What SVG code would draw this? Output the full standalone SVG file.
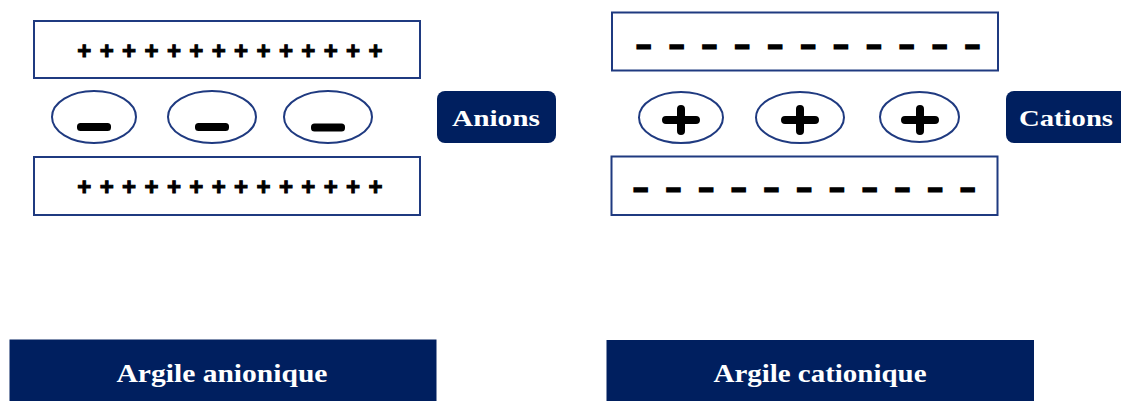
<svg xmlns="http://www.w3.org/2000/svg" width="1121" height="401" viewBox="0 0 1121 401">
  <style>
    .layer { fill: #ffffff; stroke: #1f3a80; stroke-width: 2; }
    .ion { fill: #ffffff; stroke: #1f3a80; stroke-width: 2; }
    .charges { font-family: "Liberation Sans", Arial, sans-serif; font-weight: bold; fill: #000000; stroke: #000000; text-anchor: middle; }
    .plusrow { font-size: 24px; stroke-width: 1; }
    .dashrow { font-size: 24px; stroke-width: 2.8; }
    .sign { fill: none; stroke: #000000; stroke-width: 8; stroke-linecap: round; }
    .tag { fill: #001f5f; }
    .tag-text { font-family: "Liberation Serif", "Times New Roman", serif; font-weight: bold; fill: #ffffff; text-anchor: middle; }
  </style>

  <!-- Anionic clay: positive layers with anions between them -->
  <g id="anionic-top-layer">
    <rect class="layer" x="34" y="21" width="386" height="57"/>
    <text class="charges plusrow" y="59" x="84.3 106.7 129.1 151.5 173.9 196.3 218.7 241.1 263.5 285.9 308.3 330.7 353.1 375.5">++++++++++++++</text>
  </g>
  <g id="anion-1">
    <ellipse class="ion" cx="94" cy="117" rx="42" ry="26"/>
    <rect x="77" y="123" width="34" height="8" rx="3.5" fill="#000000"/>
  </g>
  <g id="anion-2">
    <ellipse class="ion" cx="212" cy="117" rx="44" ry="26"/>
    <rect x="195" y="123" width="34" height="8" rx="3.5" fill="#000000"/>
  </g>
  <g id="anion-3">
    <ellipse class="ion" cx="328" cy="117" rx="44" ry="26"/>
    <rect x="311" y="123.5" width="34" height="8" rx="3.5" fill="#000000"/>
  </g>
  <g id="anionic-bottom-layer">
    <rect class="layer" x="34" y="157" width="386" height="58"/>
    <text class="charges plusrow" y="195" x="84.3 106.7 129.1 151.5 173.9 196.3 218.7 241.1 263.5 285.9 308.3 330.7 353.1 375.5">++++++++++++++</text>
  </g>
  <g id="anions-label">
    <rect class="tag" x="437" y="91" width="119" height="52" rx="8"/>
    <text class="tag-text" x="496" y="126" font-size="23" textLength="88" lengthAdjust="spacingAndGlyphs">Anions</text>
  </g>

  <!-- Cationic clay: negative layers with cations between them -->
  <g id="cationic-top-layer">
    <rect class="layer" x="612" y="12.5" width="386" height="58"/>
    <text class="charges dashrow" y="53" x="643.7 676.6 709.5 742.3 775.2 808.1 841 873.9 906.7 939.6 972.5">–––––––––––</text>
  </g>
  <g id="cation-1">
    <ellipse class="ion" cx="681" cy="117.5" rx="42" ry="25.5"/>
    <path class="sign" d="M666 120 H696 M681 109 V131"/>
  </g>
  <g id="cation-2">
    <ellipse class="ion" cx="800" cy="117.5" rx="44" ry="25.5"/>
    <path class="sign" d="M785 120 H815 M800 109 V131"/>
  </g>
  <g id="cation-3">
    <ellipse class="ion" cx="919.5" cy="117" rx="39.5" ry="25"/>
    <path class="sign" d="M905 120 H935 M920 109 V131"/>
  </g>
  <g id="cationic-bottom-layer">
    <rect class="layer" x="611.5" y="156.5" width="386" height="58.5"/>
    <text class="charges dashrow" y="196" x="640.7 673.4 706.1 738.8 771.5 804.3 837 869.7 902.4 935.1 967.8">–––––––––––</text>
  </g>
  <g id="cations-label">
    <rect class="tag" x="1006" y="91" width="122" height="52" rx="8"/>
    <text class="tag-text" x="1066" y="126" font-size="23" textLength="94" lengthAdjust="spacingAndGlyphs">Cations</text>
  </g>

  <!-- Captions -->
  <g id="anionic-caption">
    <rect class="tag" x="9.5" y="339.5" width="427" height="70"/>
    <text class="tag-text" x="222" y="382" font-size="25" textLength="211" lengthAdjust="spacingAndGlyphs">Argile anionique</text>
  </g>
  <g id="cationic-caption">
    <rect class="tag" x="606.5" y="340" width="427.5" height="70"/>
    <text class="tag-text" x="820" y="382" font-size="25" textLength="213" lengthAdjust="spacingAndGlyphs">Argile cationique</text>
  </g>

  <!-- no connectors in this figure -->
  <g id="connectors"/>
</svg>
